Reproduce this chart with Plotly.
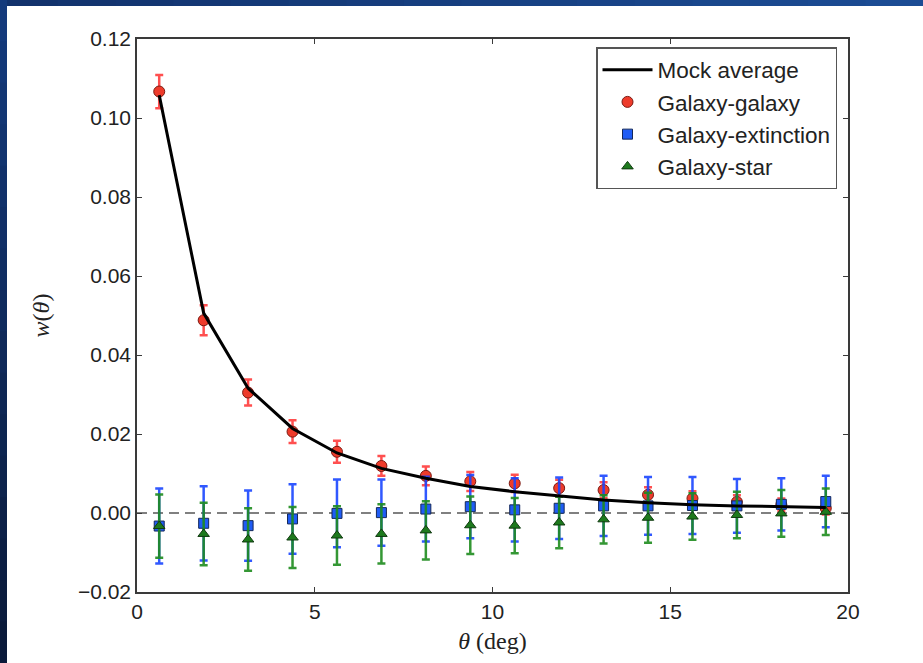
import plotly.graph_objects as go

# ---- data ----
theta = [0.625, 1.875, 3.125, 4.375, 5.625, 6.875, 8.125, 9.375,
         10.625, 11.875, 13.125, 14.375, 15.625, 16.875, 18.125, 19.375]

mock_avg = [0.1058, 0.0506, 0.0316, 0.0214, 0.0152, 0.0113, 0.0088, 0.0067,
            0.0054, 0.0043, 0.0033, 0.0026, 0.0021, 0.0018, 0.0016, 0.0014]

gg_val = [0.1067, 0.0488, 0.0305, 0.0206, 0.0155, 0.0119, 0.0094, 0.0080,
          0.0075, 0.0063, 0.0058, 0.0046, 0.0037, 0.0028, 0.0021, 0.0012]
gg_err = [0.0042, 0.0038, 0.0033, 0.0029, 0.0028, 0.0025, 0.0024, 0.0024,
          0.0022, 0.0021, 0.0020, 0.0019, 0.0018, 0.0017, 0.0016, 0.0016]

ge_val = [-0.0033, -0.0026, -0.0032, -0.0015, -0.0001, 0.0001, 0.0010, 0.0016,
          0.0008, 0.0012, 0.0018, 0.0018, 0.0019, 0.0018, 0.0022, 0.0029]
ge_err = [0.0095, 0.0094, 0.0089, 0.0088, 0.0086, 0.0084, 0.0082, 0.0080,
          0.0080, 0.0078, 0.0076, 0.0073, 0.0072, 0.0068, 0.0066, 0.0065]

gs_val = [-0.0033, -0.0053, -0.0067, -0.0062, -0.0057, -0.0053, -0.0044, -0.0031,
          -0.0032, -0.0024, -0.0016, -0.0012, -0.0009, -0.0005, -0.0001, 0.0003]
gs_err = [0.0080, 0.0079, 0.0079, 0.0077, 0.0074, 0.0075, 0.0074, 0.0073,
          0.0070, 0.0065, 0.0061, 0.0063, 0.0059, 0.0059, 0.0059, 0.0059]

x_ticks = [0, 5, 10, 15, 20]
y_ticks = [-0.02, 0.00, 0.02, 0.04, 0.06, 0.08, 0.10, 0.12]

W, H = 923, 663
ML, MR, MT, MB = 137, 75, 39, 71
PW, PH = W - ML - MR, H - MT - MB

fig = go.Figure()

fig.add_trace(go.Scatter(
    x=theta, y=gg_val, mode="markers", name="Galaxy-galaxy",
    legendgroup="b", legendrank=2,
    marker=dict(symbol="circle", size=11, color="#ee3b2b",
                line=dict(color="#7a1a12", width=1)),
    error_y=dict(type="data", array=gg_err, color="rgba(255,60,60,0.9)",
                 thickness=2.5, width=4)))

fig.add_trace(go.Scatter(
    x=theta, y=ge_val, mode="markers", name="Galaxy-extinction",
    legendgroup="c", legendrank=3,
    marker=dict(symbol="square", size=10, color="#1f5cf5",
                line=dict(color="#14285a", width=1)),
    error_y=dict(type="data", array=ge_err, color="rgba(25,70,255,0.9)",
                 thickness=2.5, width=4)))

fig.add_trace(go.Scatter(
    x=theta, y=gs_val, mode="markers", name="Galaxy-star",
    legendgroup="d", legendrank=4,
    marker=dict(symbol="triangle-up", size=10, color="#1d7a1d",
                line=dict(color="#103a10", width=1)),
    error_y=dict(type="data", array=gs_err, color="rgba(30,140,30,0.9)",
                 thickness=2.5, width=4)))

fig.add_trace(go.Scatter(
    x=theta, y=mock_avg, mode="lines", name="Mock average",
    legendgroup="a", legendrank=1,
    line=dict(color="black", width=3)))

# zero reference line
fig.add_shape(type="line", xref="x", yref="y", x0=0, x1=20, y0=0, y1=0,
              line=dict(color="#808080", width=2, dash="10px,6px"), layer="below")

# slide background bands (dark blue gradient) around the white page
def hexmix(c1, c2, t):
    a = [int(c1[i:i + 2], 16) for i in (1, 3, 5)]
    b = [int(c2[i:i + 2], 16) for i in (1, 3, 5)]
    return "#%02x%02x%02x" % tuple(round(a[k] + (b[k] - a[k]) * t) for k in range(3))

def px_to_paper_x(px):
    return (px - ML) / PW

def px_to_paper_y(py):
    return (H - MB - py) / PH

n = 16
for i in range(n):
    x0 = W * i / n
    x1 = W * (i + 1) / n + 1
    fig.add_shape(type="rect", xref="paper", yref="paper",
                  x0=px_to_paper_x(x0), x1=px_to_paper_x(x1),
                  y0=px_to_paper_y(6), y1=px_to_paper_y(-2),
                  fillcolor=hexmix("#12326c", "#1b4c94", i / (n - 1)),
                  line=dict(width=0), layer="above")
for i in range(n):
    y0 = H * i / n
    y1 = H * (i + 1) / n + 1
    fig.add_shape(type="rect", xref="paper", yref="paper",
                  x0=px_to_paper_x(-2), x1=px_to_paper_x(7),
                  y0=px_to_paper_y(y1), y1=px_to_paper_y(y0),
                  fillcolor=hexmix("#143a7c", "#0a1a3a", i / (n - 1)),
                  line=dict(width=0), layer="above")

axis_common = dict(
    showgrid=False, zeroline=False, showline=True, linecolor="#3a3a3a",
    linewidth=1.5, mirror="ticks", ticks="inside", ticklen=5,
    tickcolor="#3a3a3a", tickwidth=1,
    tickfont=dict(family="Liberation Sans, Arial, sans-serif", size=21, color="#222222"),
)

fig.update_xaxes(range=[0, 20], tickvals=x_ticks, ticktext=[str(v) for v in x_ticks],
                 title=dict(text="<i>θ</i> (deg)", standoff=10,
                            font=dict(family="Liberation Serif, serif", size=24, color="#222222")),
                 **axis_common)
fig.update_yaxes(range=[-0.02, 0.12], tickvals=y_ticks, tickformat=".2f",
                 title=dict(text="<i>w</i>(<i>θ</i>)", standoff=22,
                            font=dict(family="Liberation Serif, serif", size=24, color="#222222")),
                 **axis_common)

fig.update_layout(
    width=W, height=H,
    margin=dict(l=ML, r=MR, t=MT, b=MB, autoexpand=False),
    paper_bgcolor="white", plot_bgcolor="white",
    showlegend=True,
    legend=dict(x=px_to_paper_x(837), xanchor="right",
                y=px_to_paper_y(47), yanchor="top",
                bgcolor="white", bordercolor="#555555", borderwidth=1.5,
                font=dict(family="Liberation Sans, Arial, sans-serif", size=22.5, color="#222222"),
                traceorder="grouped", tracegroupgap=0, itemwidth=50),
)

fig.write_html("out.html")
